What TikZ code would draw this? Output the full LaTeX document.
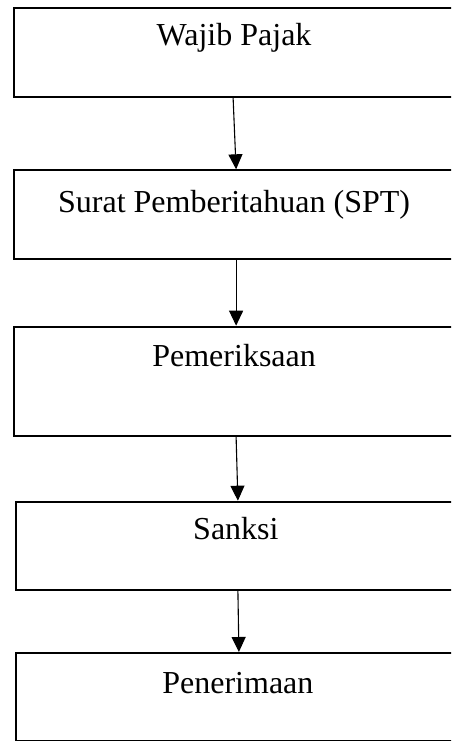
\documentclass[tikz,border=0pt]{standalone}
\usepackage{fontspec}
\setmainfont{Liberation Serif}
\usetikzlibrary{arrows.meta}
\begin{document}
\begin{tikzpicture}[x=1pt,y=-1pt,
  stepbox/.style={draw=black, line width=1.8pt, rectangle, anchor=north west,
    inner xsep=0pt, inner ysep=0pt, minimum width=441pt,
    font=\fontsize{32}{38}\selectfont},
  arr/.style={line width=1.1pt, -{Triangle[width=14pt,length=15pt]}}]
\useasboundingbox (0,0) rectangle (451,741);
\clip (0,0) rectangle (451,741);
\node[stepbox, text height=38pt, text depth=51pt] (b1) at (12.7,7) {Wajib Pajak};
\node[stepbox, text height=42pt, text depth=47pt] (b2) at (12.7,169.3) {Surat Pemberitahuan (SPT)};
\node[stepbox, text height=39.5pt, text depth=69.8pt] (b3) at (12.7,325.7) {Pemeriksaan};
\node[stepbox, text height=37.5pt, text depth=50.8pt, minimum width=440pt] (b4) at (15,500.7) {Sanksi};
\node[stepbox, text height=40.5pt, text depth=47.5pt, minimum width=444pt] (b5) at (15,652) {Penerimaan};
\draw[arr] ([xshift=-1pt]b1.south) -- ([xshift=2pt]b2.north);
\draw[arr] ([xshift=2pt]b2.south) -- ([xshift=2pt]b3.north);
\draw[arr] ([xshift=2pt]b3.south) -- ([xshift=2pt]b4.north);
\draw[arr] ([xshift=2pt]b4.south) -- ([xshift=1pt]b5.north);
\end{tikzpicture}
\end{document}
